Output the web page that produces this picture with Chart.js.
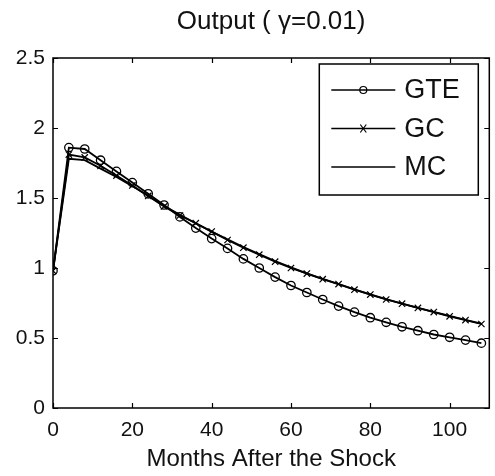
<!DOCTYPE html>
<html>
<head>
<meta charset="utf-8">
<script src="https://cdn.jsdelivr.net/npm/chart.js@4.4.1/dist/chart.umd.min.js"></script>
<style>
html,body{margin:0;padding:0;background:#fff;}
#wrap{width:495px;height:476px;}
</style>
</head>
<body>
<div id="wrap"><canvas id="c" width="495" height="476"></canvas></div>
<script>
const months = [0,4,8,12,16,20,24,28,32,36,40,44,48,52,56,60,64,68,72,76,80,84,88,92,96,100,104,108];
const gte = [0.98,1.86,1.85,1.77,1.69,1.61,1.53,1.45,1.365,1.285,1.21,1.14,1.065,1.00,0.935,0.875,0.825,0.775,0.728,0.685,0.645,0.612,0.580,0.552,0.525,0.505,0.485,0.463];
const gc  = [0.98,1.81,1.79,1.73,1.66,1.59,1.515,1.44,1.375,1.32,1.26,1.20,1.145,1.095,1.045,1.00,0.96,0.92,0.885,0.845,0.81,0.775,0.745,0.715,0.685,0.655,0.628,0.600];
const mc  = [0.98,1.78,1.77,1.71,1.65,1.585,1.515,1.445,1.38,1.32,1.26,1.205,1.15,1.10,1.05,1.005,0.962,0.922,0.885,0.848,0.812,0.778,0.746,0.716,0.687,0.658,0.630,0.603];
const xTicks = [0,20,40,60,80,100];
const yTicks = [0,0.5,1,1.5,2,2.5];
const seriesNames = ['GTE','GC','MC'];
const titleText = 'Output ( \u03b3=0.01)';
const xTitle = 'Months After the Shock';

const FONT = "'Liberation Sans', Arial, Helvetica, sans-serif";
const TXT = '#111';

function pts(v){ return months.map((m,i)=>({x:m,y:v[i]})); }

const framePlugin = {
  id:'frame',
  afterDraw(chart){
    const {ctx, chartArea:a, scales} = chart;
    ctx.save();
    ctx.strokeStyle = '#000';
    ctx.lineWidth = 1.5;
    ctx.strokeRect(a.left, a.top, a.right-a.left, a.bottom-a.top);
    const tl = 5;
    ctx.lineWidth = 1.2;
    ctx.beginPath();
    xTicks.forEach(t=>{
      const x = Math.round(scales.x.getPixelForValue(t))+0.5;
      ctx.moveTo(x,a.bottom); ctx.lineTo(x,a.bottom-tl);
      ctx.moveTo(x,a.top); ctx.lineTo(x,a.top+tl);
    });
    yTicks.forEach(t=>{
      const y = Math.round(scales.y.getPixelForValue(t))+0.5;
      ctx.moveTo(a.left,y); ctx.lineTo(a.left+tl,y);
      ctx.moveTo(a.right,y); ctx.lineTo(a.right-tl,y);
    });
    ctx.stroke();

    // legend box
    const lw = 159, lh = 131;
    const lx = a.right - 170, ly = a.top + 6;
    ctx.fillStyle = '#fff';
    ctx.fillRect(lx, ly, lw, lh);
    ctx.lineWidth = 1.5;
    ctx.strokeStyle = '#000';
    ctx.strokeRect(lx, ly, lw, lh);
    const ds = chart.data.datasets;
    ds.forEach((d,i)=>{
      const y = ly + 26 + i*38.5;
      const x0 = lx + 12, x1 = lx + 76;
      ctx.beginPath();
      ctx.lineWidth = 1.5;
      ctx.moveTo(x0,y); ctx.lineTo(x1,y); ctx.stroke();
      const cx = (x0+x1)/2;
      if (d.pointStyle === 'circle'){
        ctx.beginPath(); ctx.lineWidth = 1.2;
        ctx.arc(cx,y,3.5,0,Math.PI*2); ctx.stroke();
      } else if (d.pointStyle === 'crossRot'){
        ctx.beginPath(); ctx.lineWidth = 1.2;
        ctx.moveTo(cx-3,y-4); ctx.lineTo(cx+3,y+4);
        ctx.moveTo(cx-3,y+4); ctx.lineTo(cx+3,y-4);
        ctx.stroke();
      }
      ctx.fillStyle = TXT;
      ctx.font = '27px ' + FONT;
      ctx.textBaseline = 'middle';
      ctx.textAlign = 'left';
      ctx.fillText(d.label, x1 + 9, y + 1);
    });
    ctx.restore();
  }
};

new Chart(document.getElementById('c'), {
  type:'line',
  data:{
    datasets:[
      {label:seriesNames[0], data:pts(gte), borderColor:'#000', borderWidth:1.8, pointStyle:'circle', pointRadius:4.2, pointBorderWidth:1.3, pointBackgroundColor:'rgba(0,0,0,0)', pointBorderColor:'#000', tension:0},
      {label:seriesNames[1], data:pts(gc), borderColor:'#000', borderWidth:1.8, pointStyle:'crossRot', pointRadius:4.5, pointBorderWidth:1.2, pointBorderColor:'#000', tension:0},
      {label:seriesNames[2], data:pts(mc), borderColor:'#000', borderWidth:1.8, pointRadius:0, tension:0}
    ]
  },
  options:{
    responsive:false,
    animation:false,
    devicePixelRatio:1,
    layout:{padding:{left:0,right:4,top:0,bottom:0}},
    plugins:{
      legend:{display:false},
      tooltip:{enabled:false},
      title:{display:true, fullSize:false, text:titleText, color:TXT, font:{family:FONT, size:26, weight:'normal', lineHeight:1.2}, padding:{top:6,bottom:20.8}}
    },
    scales:{
      x:{
        type:'linear', min:0, max:110,
        afterBuildTicks(s){ s.ticks = xTicks.map(v=>({value:v})); },
        afterFit(s){ s.height = 68; },
        grid:{display:false, drawTicks:false},
        border:{display:false},
        ticks:{color:TXT, font:{family:FONT,size:21}, padding:10, maxRotation:0, autoSkip:false, callback:v=>String(v)},
        title:{display:true, text:xTitle, color:TXT, font:{family:FONT,size:24}, padding:{top:0,bottom:2}}
      },
      y:{
        type:'linear', min:0, max:2.5,
        afterBuildTicks(s){ s.ticks = yTicks.map(v=>({value:v})); },
        afterFit(s){ s.width = 53; },
        grid:{display:false, drawTicks:false},
        border:{display:false},
        ticks:{color:TXT, font:{family:FONT,size:21}, padding:8, autoSkip:false, callback:v=>String(v)}
      }
    }
  },
  plugins:[framePlugin]
});
</script>
</body>
</html>
